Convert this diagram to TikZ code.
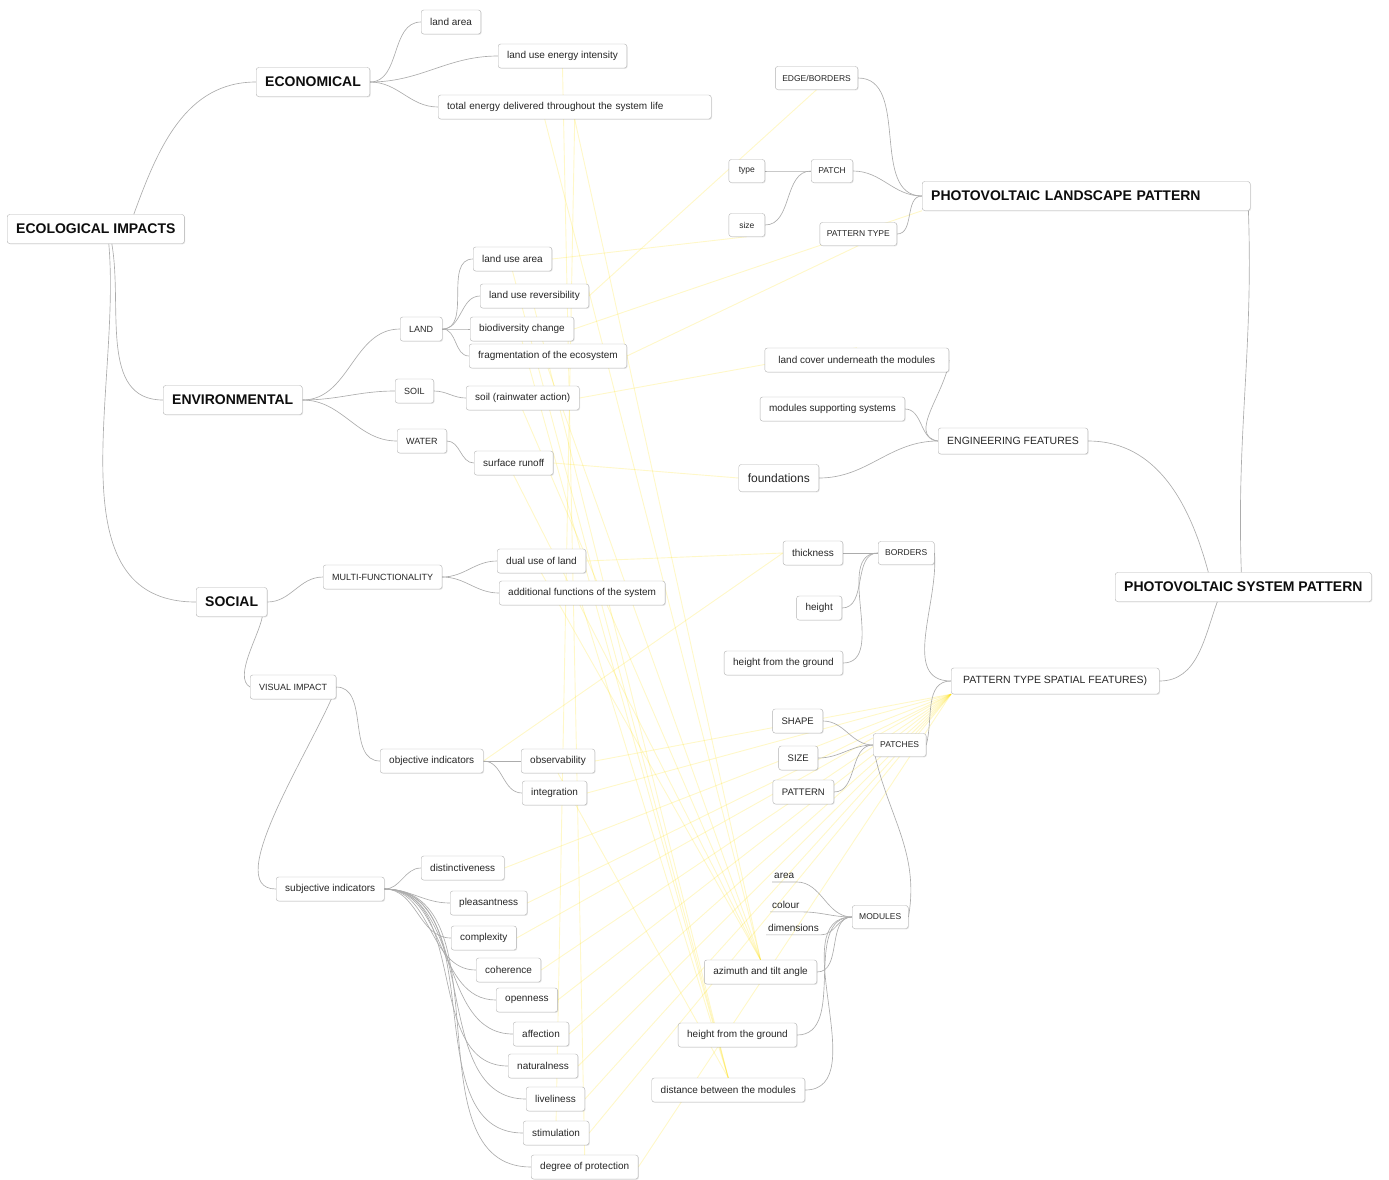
\documentclass[tikz,border=0pt]{standalone}
\usepackage{fontspec}
\setmainfont{Liberation Sans}
\usetikzlibrary{shadows}
\pgfdeclarelayer{background}
\pgfsetlayers{background,main}
\tikzset{
	boxbase/.style={draw=gray!60, fill=white, rounded corners=2.5pt, text=black!85, inner xsep=9pt,
		drop shadow={shadow xshift=0.8pt, shadow yshift=-0.8pt, fill=black, opacity=0.10}},
	topicbox/.style={boxbase, font=\bfseries\fontsize{14}{16}\selectfont, minimum height=29pt, text=black!95},
	midbox/.style={boxbase, font=\fontsize{10.5}{12}\selectfont, minimum height=26pt},
	leafbox/.style={boxbase, font=\fontsize{10}{12}\selectfont, minimum height=24pt},
	capbox/.style={boxbase, font=\fontsize{9}{11}\selectfont, minimum height=24pt},
	tagbox/.style={boxbase, font=\fontsize{8.5}{10}\selectfont, minimum height=23pt, inner xsep=7pt},
	bare/.style={text=black!85, font=\fontsize{10}{12}\selectfont, inner xsep=2pt, inner ysep=3pt},
	branchline/.style={draw=gray!65, line width=0.65pt},
	crossline/.style={draw=yellow!80!orange, line width=0.9pt, opacity=0.22}
}
\def\branch(#1)(#2){\draw[branchline] (#1) to[out=0,in=180] (#2);}

\begin{document}
\begin{tikzpicture}[x=1pt, y=-1pt]
		%%%%% START %%%%%
		\useasboundingbox (0,0) rectangle (1389,1179);
		
		%% ecological impacts
		\node[topicbox, anchor=west] (eco) at (7,229) {ECOLOGICAL IMPACTS};
		\node[topicbox, anchor=west] (econ) at (256,82) {ECONOMICAL};
		\node[leafbox, anchor=west] (landarea) at (421,22) {land area};
		\node[leafbox, anchor=west] (landenergy) at (498,56) {land use energy intensity};
		\node[leafbox, anchor=west, text width=255pt, align=left] (totalenergy) at (438,107) {total energy delivered throughout the system life};
		
		\node[topicbox, anchor=west] (envir) at (163,400) {ENVIRONMENTAL};
		\node[capbox, anchor=west] (land) at (400,329) {LAND};
		\node[leafbox, anchor=west] (landusearea) at (473,259) {land use area};
		\node[leafbox, anchor=west] (landrev) at (480,296) {land use reversibility};
		\node[leafbox, anchor=west] (biodiv) at (470,329) {biodiversity change};
		\node[leafbox, anchor=west] (fragment) at (469,356) {fragmentation of the ecosystem};
		\node[capbox, anchor=west] (soil) at (395,391) {SOIL};
		\node[leafbox, anchor=west] (soilrain) at (466,398) {soil (rainwater action)};
		\node[capbox, anchor=west] (water) at (397,441) {WATER};
		\node[leafbox, anchor=west] (runoff) at (474,463) {surface runoff};
		
		\node[topicbox, anchor=west] (social) at (196,602) {SOCIAL};
		\node[capbox, anchor=west] (multi) at (323,577) {MULTI-FUNCTIONALITY};
		\node[leafbox, anchor=west] (dualuse) at (497,561) {dual use of land};
		\node[leafbox, anchor=west] (additional) at (499,593) {additional functions of the system};
		\node[capbox, anchor=west] (visual) at (250,687) {VISUAL IMPACT};
		\node[leafbox, anchor=west] (objective) at (380,761) {objective indicators};
		\node[leafbox, anchor=west] (observ) at (521,761) {observability};
		\node[leafbox, anchor=west] (integr) at (522,793) {integration};
		\node[leafbox, anchor=west] (subjective) at (276,889) {subjective indicators};
		\node[leafbox, anchor=west] (distinct) at (421,868) {distinctiveness};
		\node[leafbox, anchor=west] (pleasant) at (450,903) {pleasantness};
		\node[leafbox, anchor=west] (complex) at (451,938) {complexity};
		\node[leafbox, anchor=west] (coherence) at (476,970) {coherence};
		\node[leafbox, anchor=west] (openness) at (496,1000) {openness};
		\node[leafbox, anchor=west] (affection) at (513,1034) {affection};
		\node[leafbox, anchor=west] (natural) at (508,1066) {naturalness};
		\node[leafbox, anchor=west] (lively) at (526,1099) {liveliness};
		\node[leafbox, anchor=west] (stimul) at (523,1133) {stimulation};
		\node[leafbox, anchor=west] (protect) at (531,1167) {degree of protection};
		
		%% photovoltaic patterns
		\node[topicbox, anchor=west] (pvsp) at (1115,587) {PHOTOVOLTAIC SYSTEM PATTERN};
		\node[topicbox, anchor=west, text width=310pt, align=left] (pvlp) at (922,196) {PHOTOVOLTAIC LANDSCAPE PATTERN};
		\node[tagbox, anchor=east] (edge) at (858,78) {EDGE/BORDERS};
		\node[tagbox, anchor=east] (patch) at (853,171) {PATCH};
		\node[tagbox, anchor=east, minimum width=36pt] (ptype) at (765,171) {type};
		\node[tagbox, anchor=east, minimum width=36pt] (psize) at (765,225) {size};
		\node[tagbox, anchor=east] (pattype) at (897,234) {PATTERN TYPE};
		
		\node[midbox, anchor=west] (engin) at (938,441) {ENGINEERING FEATURES};
		\node[leafbox, anchor=east, minimum width=184pt] (landcover) at (949,360) {land cover underneath the modules};
		\node[leafbox, anchor=east] (modsupport) at (905,409) {modules supporting systems};
		\node[leafbox, anchor=east, font=\fontsize{12}{14}\selectfont, minimum height=27pt] (found) at (819,478) {foundations};
		
		\node[midbox, anchor=west, minimum width=208pt] (ptsf) at (951,681) {PATTERN TYPE SPATIAL FEATURES)};
		\node[tagbox, anchor=west] (borders) at (878,553) {BORDERS};
		\node[leafbox, anchor=east] (thick) at (843,553) {thickness};
		\node[leafbox, anchor=east] (height) at (842,608) {height};
		\node[leafbox, anchor=east] (hground) at (843,663) {height from the ground};
		\node[tagbox, anchor=west] (patches) at (873,745) {PATCHES};
		\node[capbox, anchor=east, font=\fontsize{9.5}{11}\selectfont] (shape) at (823,721) {SHAPE};
		\node[capbox, anchor=east, font=\fontsize{9.5}{11}\selectfont] (sizecap) at (818,758) {SIZE};
		\node[capbox, anchor=east, font=\fontsize{9.5}{11}\selectfont] (pattern) at (834,792) {PATTERN};
		\node[tagbox, anchor=west] (modules) at (852,917) {MODULES};
		\node[bare, anchor=west] (area) at (772,876) {area};
		\node[bare, anchor=west] (colour) at (770,905) {colour};
		\node[bare, anchor=west] (dimens) at (766,928) {dimensions};
		\node[leafbox, anchor=east] (azimuth) at (817,972) {azimuth and tilt angle};
		\node[leafbox, anchor=east] (hmodule) at (797,1035) {height from the ground};
		\node[leafbox, anchor=east] (distance) at (805,1090) {distance between the modules};
		
		\begin{pgfonlayer}{background}
		%% yellow cross links
		\draw[crossline] (totalenergy.south) -- (azimuth.north);
		\draw[crossline] ([xshift=-30pt]totalenergy.south) -- (azimuth.north);
		\draw[crossline] (fragment.south) -- (azimuth.north);
		\draw[crossline] (soilrain.south) -- (azimuth.north);
		\draw[crossline] (runoff.south) -- (azimuth.north);
		\draw[crossline] (dualuse.south) -- (azimuth.north);
		\draw[crossline] (landusearea.south) -- (distance.north);
		\draw[crossline] (biodiv.south) -- (distance.north);
		\draw[crossline] (landrev.south) -- (distance.north);
		\draw[crossline] (additional.south) -- (distance.north);
		\draw[crossline] (observ.south) -- (distance.north);
		\draw[crossline] (distinct.east) -- (ptsf.south west);
		\draw[crossline] (pleasant.east) -- (ptsf.south west);
		\draw[crossline] (complex.east) -- (ptsf.south west);
		\draw[crossline] (coherence.east) -- (ptsf.south west);
		\draw[crossline] (openness.east) -- (ptsf.south west);
		\draw[crossline] (affection.east) -- (ptsf.south west);
		\draw[crossline] (natural.east) -- (ptsf.south west);
		\draw[crossline] (lively.east) -- (ptsf.south west);
		\draw[crossline] (stimul.east) -- (ptsf.south west);
		\draw[crossline] (protect.east) -- (ptsf.south west);
		\draw[crossline] (integr.east) -- (ptsf.south west);
		\draw[crossline] (observ.east) -- (ptsf.south west);
		\draw[crossline] (biodiv.east) -- (pvlp.south west);
		\draw[crossline] (fragment.east) -- (pattype.south);
		\draw[crossline] (landrev.east) -- (edge.south);
		\draw[crossline] (soilrain.east) -- (landcover.north);
		\draw[crossline] (runoff.east) -- (found.west);
		\draw[crossline] (objective.east) -- (thick.west);
		\draw[crossline] (dualuse.east) -- (thick.west);
		\draw[crossline] (landenergy.south) -- (protect.north);
		\draw[crossline] (totalenergy.south) -- (stimul.north);
		\draw[crossline] (landusearea.east) -- (psize.south);
		
		%% branches left
		\draw[branchline] ([xshift=38pt]eco.north) to[out=70,in=180] (econ.west);
		\draw[branchline] ([xshift=16pt]eco.south) to[out=-80,in=180] (envir.west);
		\draw[branchline] ([xshift=13pt]eco.south) to[out=-85,in=180] (social.west);
		\branch(econ.east)(landarea.west)
		\branch(econ.east)(landenergy.west)
		\branch(econ.east)(totalenergy.west)
		\branch(envir.east)(land.west)
		\branch(envir.east)(soil.west)
		\branch(envir.east)(water.west)
		\branch(land.east)(landusearea.west)
		\branch(land.east)(landrev.west)
		\branch(land.east)(biodiv.west)
		\branch(land.east)(fragment.west)
		\branch(soil.east)(soilrain.west)
		\branch(water.east)(runoff.west)
		\branch(social.east)(multi.west)
		\draw[branchline] ([xshift=-5pt]social.south east) to[out=-100,in=150,looseness=0.7] (visual.west);
		\branch(multi.east)(dualuse.west)
		\branch(multi.east)(additional.west)
		\branch(visual.east)(objective.west)
		\draw[branchline] (visual.east) to[out=-110,in=180,looseness=0.7] (subjective.west);
		\branch(objective.east)(observ.west)
		\branch(objective.east)(integr.west)
		\branch(subjective.east)(distinct.west)
		\branch(subjective.east)(pleasant.west)
		\branch(subjective.east)(complex.west)
		\branch(subjective.east)(coherence.west)
		\branch(subjective.east)(openness.west)
		\branch(subjective.east)(affection.west)
		\branch(subjective.east)(natural.west)
		\branch(subjective.east)(lively.west)
		\branch(subjective.east)(stimul.west)
		\branch(subjective.east)(protect.west)
		
		%% branches right
		\draw[branchline] ([xshift=-2pt]pvlp.south east) to[out=-88,in=92] ([xshift=-2pt]pvsp.north);
		\draw[branchline] (engin.east) to[out=0,in=105] ([xshift=-35pt]pvsp.north);
		\draw[branchline] (ptsf.east) to[out=0,in=-110] ([xshift=-26pt]pvsp.south);
		\branch(edge.east)(pvlp.west)
		\branch(patch.east)(pvlp.west)
		\branch(pattype.east)(pvlp.west)
		\branch(ptype.east)(patch.west)
		\branch(psize.east)(patch.west)
		\draw[branchline] (landcover.east) to[out=-95,in=170] (engin.west);
		\branch(modsupport.east)(engin.west)
		\branch(found.east)(engin.west)
		\draw[branchline] (borders.east) to[out=-85,in=180] (ptsf.west);
		\draw[branchline] (patches.east) to[out=75,in=180] (ptsf.west);
		\branch(thick.east)(borders.west)
		\branch(height.east)(borders.west)
		\branch(hground.east)(borders.west)
		\branch(shape.east)(patches.west)
		\branch(sizecap.east)(patches.west)
		\branch(pattern.east)(patches.west)
		\draw[branchline] (modules.east) to[out=80,in=-80] (patches.west);
		\draw[branchline] (area.south west) -- (area.south east) to[out=0,in=180] (modules.west);
		\draw[branchline] (colour.south west) -- (colour.south east) to[out=0,in=180] (modules.west);
		\draw[branchline] (dimens.south west) -- (dimens.south east) to[out=0,in=180] (modules.west);
		\branch(azimuth.east)(modules.west)
		\branch(hmodule.east)(modules.west)
		\branch(distance.east)(modules.west)
		\end{pgfonlayer}
		
		%%%%% END %%%%%
\end{tikzpicture}
\end{document}
